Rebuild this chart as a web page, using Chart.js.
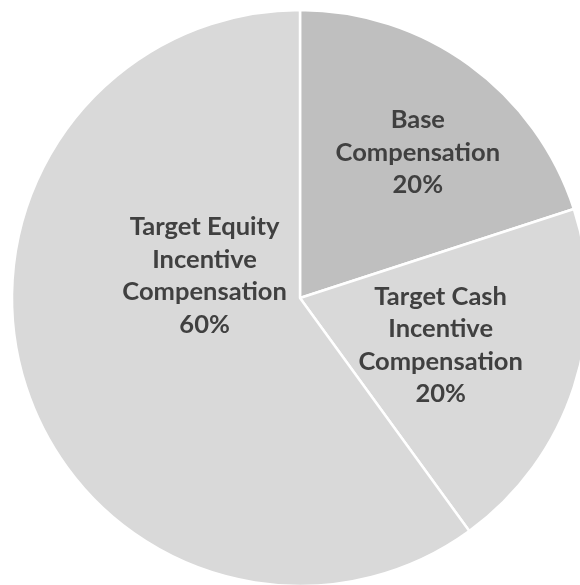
<!DOCTYPE html>
<html>
<head>
<meta charset="utf-8">
<script src="https://cdn.jsdelivr.net/npm/chart.js@4/dist/chart.umd.min.js"></script>
<style>
  html, body { margin: 0; padding: 0; background: #fff; overflow: hidden; }
  #wrap { position: absolute; left: 0; top: -2px; width: 600px; height: 600px; }
</style>
</head>
<body>
<div id="wrap"><canvas id="pie" width="600" height="600"></canvas></div>
<script>
// data
const categories = ['Base Compensation', 'Target Cash Incentive Compensation', 'Target Equity Incentive Compensation'];
const labelLines = [['Base', 'Compensation'], ['Target Cash', 'Incentive', 'Compensation'], ['Target Equity', 'Incentive', 'Compensation']];
const shares = [20, 20, 60];
const sliceColors = ['#bfbfbf', '#d9d9d9', '#d9d9d9'];

// where Excel put each label: angle shift (deg) from the slice middle, fraction of radius
const labelPlace = [{shift: 3, frac: 0.65}, {shift: 0.5, frac: 0.515}, {shift: 31, frac: 0.34}];

const sliceLabels = {
  id: 'sliceLabels',
  afterDatasetsDraw(chart) {
    const ctx = chart.ctx;
    const arcs = chart.getDatasetMeta(0).data;
    const total = shares.reduce((a, b) => a + b, 0);
    ctx.save();
    ctx.font = 'bold 25.5px Lato';
    ctx.fillStyle = '#404040';
    ctx.textAlign = 'center';
    ctx.textBaseline = 'middle';
    arcs.forEach((arc, i) => {
      const p = arc.getProps(['x', 'y', 'startAngle', 'endAngle', 'outerRadius'], true);
      const a = (p.startAngle + p.endAngle) / 2 + labelPlace[i].shift * Math.PI / 180;
      const r = p.outerRadius * labelPlace[i].frac;
      const cx = p.x + Math.cos(a) * r;
      const cy = p.y + Math.sin(a) * r;
      const lines = labelLines[i].concat([Math.round(shares[i] / total * 100) + '%']);
      const lh = 32.5;
      const y0 = cy - (lines.length - 1) * lh / 2;
      lines.forEach((t, k) => ctx.fillText(t, cx, y0 + k * lh));
    });
    ctx.restore();
  }
};

new Chart(document.getElementById('pie'), {
  type: 'pie',
  data: {
    labels: categories,
    datasets: [{
      data: shares,
      backgroundColor: sliceColors,
      borderColor: '#ffffff',
      borderWidth: 2.5
    }]
  },
  options: {
    responsive: false,
    animation: false,
    radius: 288,
    layout: { padding: 0 },
    plugins: {
      legend: { display: false },
      tooltip: { enabled: false }
    }
  },
  plugins: [sliceLabels]
});
</script>
</body>
</html>
